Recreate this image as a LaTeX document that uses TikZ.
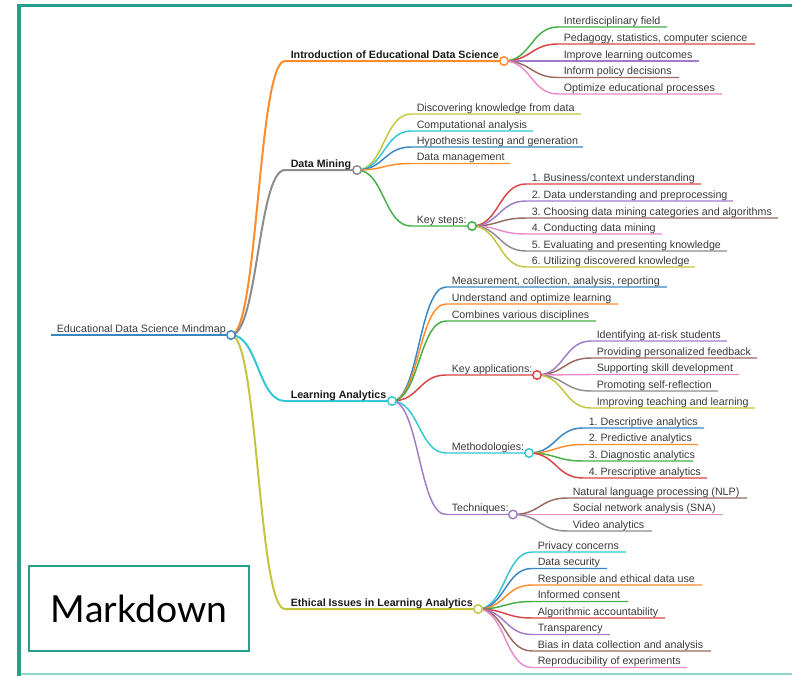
\documentclass[tikz,border=0pt]{standalone}
\usepackage{fontspec}
\setmainfont{Liberation Sans}
\newfontfamily\latofont{Lato}
\frenchspacing
\definecolor{cB}{HTML}{3A86C0}
\definecolor{cO}{HTML}{FF8C2A}
\definecolor{cG}{HTML}{45AE45}
\definecolor{cR}{HTML}{DB4444}
\definecolor{cP}{HTML}{A07CC6}
\definecolor{cBr}{HTML}{9A6A60}
\definecolor{cPk}{HTML}{E88BCB}
\definecolor{cGy}{HTML}{8C8C8C}
\definecolor{cOl}{HTML}{C4C53E}
\definecolor{cC}{HTML}{33C6D4}
\definecolor{txt}{HTML}{3A3A3A}
\definecolor{txtb}{HTML}{1A1A1A}
\definecolor{frameC}{HTML}{22A08C}
\definecolor{frameL}{HTML}{8ED6CB}
\newcommand\mmbranch[8]{%
  \coordinate (#1-s) at (#3,#2);
  \coordinate (#1) at (#4,#2);
  \draw[#5,#6] (\mmpn) .. controls ({(\mmpx+#3)/2},\mmpy) and ({(\mmpx+#3)/2},#2) .. (#1-s) -- (#1);
  \node[#7] (#1-t) at ({#3+5.5},{#2-2.8}) {#8};
}
\begin{document}
\begin{tikzpicture}[x=0.75pt,y=-0.75pt,
  lbl/.style={font=\fontsize{8}{9.6}\selectfont, text=txt, inner sep=0pt, anchor=base west},
  blbl/.style={font=\fontsize{8}{9.6}\selectfont\bfseries, text=txtb, inner sep=0pt, anchor=base west},
  dot/.style={circle, fill=white, line width=1.1pt, minimum size=6.4pt, inner sep=0pt},
  lz/.style={line width=2.2pt}, lone/.style={line width=1.5pt}, ltwo/.style={line width=1.1pt}]
\useasboundingbox (0,0) rectangle (792,675);
% frame
\draw[frameL, line width=1pt] (19,674) -- (800,674);
\draw[frameC, line width=2.4pt] (19,680) -- (19,5.5) -- (800,5.5);
\node[draw=frameC, line width=1.1pt, minimum width=165pt, minimum height=63.75pt, inner sep=0pt,
      font=\latofont\fontsize{28}{32}\selectfont, text=black] (md) at (139,608.5) {Markdown};
% root
\coordinate (root-s) at (51,335);
\coordinate (root) at (231,335);
\draw[cB,lz] (root-s) -- (root);
\node[lbl] (root-t) at (56.5,332.2) {Educational Data Science Mindmap};
% level 1
\def\mmpn{root}\def\mmpx{231}\def\mmpy{335}
\mmbranch{intro}{61}{285}{504}{cO}{lone}{blbl}{Introduction of Educational Data Science}
\mmbranch{dm}{170}{285}{357}{cGy}{lone}{blbl}{Data Mining}
\mmbranch{la}{401}{285}{392}{cC}{lone}{blbl}{Learning Analytics}
\mmbranch{eth}{609}{285}{478}{cOl}{lone}{blbl}{Ethical Issues in Learning Analytics}
% intro children
\def\mmpn{intro}\def\mmpx{504}\def\mmpy{61}
\mmbranch{i1}{27}{558}{667}{cG}{ltwo}{lbl}{Interdisciplinary field}
\mmbranch{i2}{44}{558}{755}{cR}{ltwo}{lbl}{Pedagogy, statistics, computer science}
\mmbranch{i3}{61}{558}{699}{cP}{ltwo}{lbl}{Improve learning outcomes}
\mmbranch{i4}{77.5}{558}{679}{cBr}{ltwo}{lbl}{Inform policy decisions}
\mmbranch{i5}{94}{558}{722}{cPk}{ltwo}{lbl}{Optimize educational processes}
% data mining children
\def\mmpn{dm}\def\mmpx{357}\def\mmpy{170}
\mmbranch{d1}{114}{411}{581}{cOl}{ltwo}{lbl}{Discovering knowledge from data}
\mmbranch{d2}{131}{411}{533}{cC}{ltwo}{lbl}{Computational analysis}
\mmbranch{d3}{147}{411}{583}{cB}{ltwo}{lbl}{Hypothesis testing and generation}
\mmbranch{d4}{163.5}{411}{510}{cO}{ltwo}{lbl}{Data management}
\mmbranch{ks}{226}{411}{472}{cG}{ltwo}{lbl}{Key steps:}
% key steps children
\def\mmpn{ks}\def\mmpx{472}\def\mmpy{226}
\mmbranch{k1}{184}{526}{701}{cR}{ltwo}{lbl}{1. Business/context understanding}
\mmbranch{k2}{201}{526}{733}{cP}{ltwo}{lbl}{2. Data understanding and preprocessing}
\mmbranch{k3}{218}{526}{778}{cBr}{ltwo}{lbl}{3. Choosing data mining categories and algorithms}
\mmbranch{k4}{234}{526}{662}{cPk}{ltwo}{lbl}{4. Conducting data mining}
\mmbranch{k5}{251}{526}{727}{cGy}{ltwo}{lbl}{5. Evaluating and presenting knowledge}
\mmbranch{k6}{267}{526}{695}{cOl}{ltwo}{lbl}{6. Utilizing discovered knowledge}
% learning analytics children
\def\mmpn{la}\def\mmpx{392}\def\mmpy{401}
\mmbranch{a1}{287}{446}{667}{cB}{ltwo}{lbl}{Measurement, collection, analysis, reporting}
\mmbranch{a2}{304}{446}{618}{cO}{ltwo}{lbl}{Understand and optimize learning}
\mmbranch{a3}{321}{446}{596}{cG}{ltwo}{lbl}{Combines various disciplines}
\mmbranch{ka}{375}{446}{537}{cR}{ltwo}{lbl}{Key applications:}
\mmbranch{me}{453}{446}{529}{cC}{ltwo}{lbl}{Methodologies:}
\mmbranch{te}{514.5}{446}{513}{cP}{ltwo}{lbl}{Techniques:}
% key applications children
\def\mmpn{ka}\def\mmpx{537}\def\mmpy{375}
\mmbranch{p1}{341}{591}{727}{cP}{ltwo}{lbl}{Identifying at-risk students}
\mmbranch{p2}{358}{591}{757}{cBr}{ltwo}{lbl}{Providing personalized feedback}
\mmbranch{p3}{374.5}{591}{739}{cPk}{ltwo}{lbl}{Supporting skill development}
\mmbranch{p4}{391}{591}{718}{cGy}{ltwo}{lbl}{Promoting self-reflection}
\mmbranch{p5}{408}{591}{755}{cOl}{ltwo}{lbl}{Improving teaching and learning}
% methodologies children
\def\mmpn{me}\def\mmpx{529}\def\mmpy{453}
\mmbranch{m1}{428}{583}{704}{cB}{ltwo}{lbl}{1. Descriptive analytics}
\mmbranch{m2}{444.5}{583}{698}{cO}{ltwo}{lbl}{2. Predictive analytics}
\mmbranch{m3}{461}{583}{693}{cG}{ltwo}{lbl}{3. Diagnostic analytics}
\mmbranch{m4}{478}{583}{707}{cR}{ltwo}{lbl}{4. Prescriptive analytics}
% techniques children
\def\mmpn{te}\def\mmpx{513}\def\mmpy{514.5}
\mmbranch{t1}{498}{567}{747}{cBr}{ltwo}{lbl}{Natural language processing (NLP)}
\mmbranch{t2}{514.5}{567}{723}{cPk}{ltwo}{lbl}{Social network analysis (SNA)}
\mmbranch{t3}{531}{567}{652}{cGy}{ltwo}{lbl}{Video analytics}
% ethical children
\def\mmpn{eth}\def\mmpx{478}\def\mmpy{609}
\mmbranch{e1}{552}{532}{626}{cC}{ltwo}{lbl}{Privacy concerns}
\mmbranch{e2}{568.5}{532}{607}{cB}{ltwo}{lbl}{Data security}
\mmbranch{e3}{585}{532}{702}{cO}{ltwo}{lbl}{Responsible and ethical data use}
\mmbranch{e4}{601.5}{532}{628}{cG}{ltwo}{lbl}{Informed consent}
\mmbranch{e5}{618}{532}{665}{cR}{ltwo}{lbl}{Algorithmic accountability}
\mmbranch{e6}{634.5}{532}{610}{cP}{ltwo}{lbl}{Transparency}
\mmbranch{e7}{651}{532}{711}{cBr}{ltwo}{lbl}{Bias in data collection and analysis}
\mmbranch{e8}{667.5}{532}{687}{cPk}{ltwo}{lbl}{Reproducibility of experiments}
% circles
\node[dot, draw=cB] (root-c) at (root) {};
\node[dot, draw=cO] (intro-c) at (intro) {};
\node[dot, draw=cGy] (dm-c) at (dm) {};
\node[dot, draw=cG] (ks-c) at (ks) {};
\node[dot, draw=cC] (la-c) at (la) {};
\node[dot, draw=cR] (ka-c) at (ka) {};
\node[dot, draw=cC] (me-c) at (me) {};
\node[dot, draw=cP] (te-c) at (te) {};
\node[dot, draw=cOl] (eth-c) at (eth) {};
\end{tikzpicture}
\end{document}
